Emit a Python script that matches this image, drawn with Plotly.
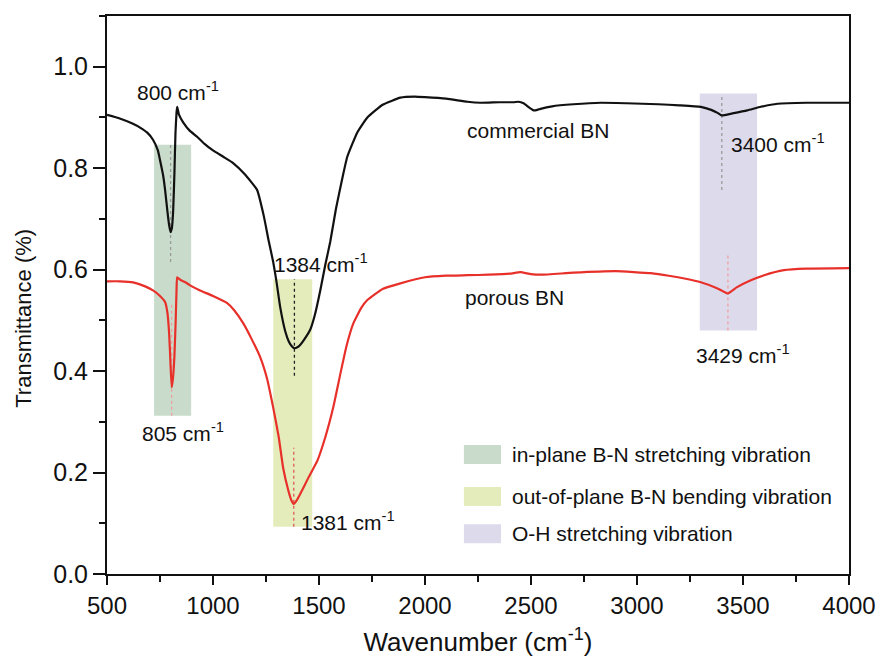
import plotly.graph_objects as go

# ---- FTIR spectra -------------------------------------------------------
wn_commercial = [500, 560, 620, 656, 690, 717, 740, 750, 765, 774, 785, 793, 800,
                 806, 812, 818, 823, 828, 831, 840, 860, 890, 925, 960, 1000, 1050,
                 1095, 1150, 1208, 1240, 1262, 1284, 1300, 1317, 1341, 1358, 1372,
                 1384, 1398, 1412, 1430, 1459, 1480, 1506, 1530, 1553, 1580, 1610,
                 1633, 1680, 1728, 1800, 1884, 1950, 2000, 2100, 2200, 2262, 2350,
                 2418, 2440, 2465, 2490, 2512, 2530, 2545, 2600, 2700, 2829, 2950,
                 3100, 3200, 3301, 3350, 3380, 3400, 3450, 3520, 3584, 3663, 3800,
                 4000]
T_commercial = [0.905, 0.898, 0.888, 0.880, 0.870, 0.856, 0.835, 0.816, 0.785, 0.757,
                0.715, 0.688, 0.674, 0.682, 0.715, 0.790, 0.870, 0.910, 0.921, 0.905,
                0.890, 0.874, 0.862, 0.848, 0.835, 0.822, 0.810, 0.788, 0.757, 0.705,
                0.658, 0.615, 0.575, 0.526, 0.478, 0.458, 0.449, 0.445, 0.447, 0.452,
                0.462, 0.482, 0.510, 0.559, 0.610, 0.655, 0.720, 0.780, 0.822, 0.870,
                0.900, 0.925, 0.939, 0.941, 0.940, 0.937, 0.931, 0.929, 0.930, 0.930,
                0.931, 0.928, 0.920, 0.914, 0.915, 0.917, 0.922, 0.926, 0.929, 0.928,
                0.926, 0.924, 0.921, 0.915, 0.909, 0.904, 0.908, 0.914, 0.921, 0.927,
                0.929, 0.929]

wn_porous = [500, 560, 623, 680, 717, 750, 774, 785, 793, 799, 805, 811, 818, 824,
             828, 831, 845, 870, 892, 939, 1000, 1067, 1100, 1143, 1180, 1223, 1255,
             1284, 1310, 1331, 1355, 1370, 1381, 1395, 1412, 1450, 1492, 1530, 1567,
             1601, 1630, 1662, 1700, 1728, 1800, 1884, 2000, 2100, 2200, 2300, 2400,
             2450, 2500, 2550, 2700, 2900, 3065, 3150, 3230, 3301, 3380, 3429, 3470,
             3537, 3600, 3693, 3800, 4000]
T_porous = [0.577, 0.577, 0.575, 0.567, 0.559, 0.548, 0.536, 0.515, 0.475, 0.420,
            0.368, 0.385, 0.430, 0.500, 0.560, 0.585, 0.580, 0.575, 0.569, 0.559,
            0.548, 0.534, 0.520, 0.494, 0.465, 0.427, 0.385, 0.328, 0.270, 0.209,
            0.165, 0.145, 0.138, 0.145, 0.158, 0.190, 0.223, 0.270, 0.328, 0.395,
            0.450, 0.494, 0.525, 0.540, 0.562, 0.573, 0.585, 0.588, 0.589, 0.590,
            0.592, 0.595, 0.591, 0.590, 0.594, 0.597, 0.593, 0.588, 0.582, 0.575,
            0.563, 0.553, 0.565, 0.579, 0.589, 0.599, 0.602, 0.603]

# ---- assigned vibration bands --------------------------------------------
band_names = ["in-plane B-N stretching vibration",
              "out-of-plane B-N bending vibration",
              "O-H stretching vibration"]
band_lo = [722, 1284, 3296]
band_hi = [897, 1468, 3566]
band_bottom = [0.312, 0.093, 0.480]
band_top = [0.846, 0.581, 0.947]
band_colors = ["#c9dccb", "#e4ecbc", "#dddbeb"]

# ---- peak markers: position, label, dotted-guide extent ------------------
peak_wn = [800, 805, 1384, 1381, 3400, 3429]
peak_labels = ["800 cm<sup>-1</sup>", "805 cm<sup>-1</sup>", "1384 cm<sup>-1</sup>",
               "1381 cm<sup>-1</sup>", "3400 cm<sup>-1</sup>", "3429 cm<sup>-1</sup>"]
guide_lo = [0.615, 0.312, 0.391, 0.093, 0.757, 0.480]
guide_hi = [0.846, 0.536, 0.581, 0.249, 0.943, 0.628]
guide_colors = ["#9a9a9a", "#eea0a0", "#222222", "#e05a5a", "#9a9a9a", "#eea0a0"]
label_x = [835, 859, 1511, 1638, 3665, 3500]
label_y = [0.953, 0.279, 0.613, 0.105, 0.850, 0.433]

FONT = "Liberation Sans, Arial, sans-serif"

fig = go.Figure()

for lo, hi, b0, b1, col in zip(band_lo, band_hi, band_bottom, band_top, band_colors):
    fig.add_shape(type="rect", xref="x", yref="y", x0=lo, x1=hi, y0=b0, y1=b1,
                  fillcolor=col, line_width=0, layer="below")

for wn, lo, hi, col in zip(peak_wn, guide_lo, guide_hi, guide_colors):
    fig.add_trace(go.Scatter(x=[wn, wn], y=[lo, hi], mode="lines",
                             line=dict(color=col, width=1.3, dash="dot"),
                             showlegend=False, hoverinfo="skip"))

fig.add_trace(go.Scatter(x=wn_commercial, y=T_commercial, mode="lines",
                         line=dict(color="#111111", width=2.2, shape="spline",
                                   smoothing=0.4),
                         name="commercial BN", showlegend=False))
fig.add_trace(go.Scatter(x=wn_porous, y=T_porous, mode="lines",
                         line=dict(color="#e8302a", width=2.2, shape="spline",
                                   smoothing=0.4),
                         name="porous BN", showlegend=False))

for txt, x, y in zip(peak_labels, label_x, label_y):
    fig.add_annotation(x=x, y=y, xref="x", yref="y", text=txt, showarrow=False,
                       font=dict(family=FONT, size=21, color="#111111"))

fig.add_annotation(x=2531, y=0.874, xref="x", yref="y", text="commercial BN",
                   showarrow=False, font=dict(family=FONT, size=21, color="#111111"))
fig.add_annotation(x=2423, y=0.545, xref="x", yref="y", text="porous BN",
                   showarrow=False, font=dict(family=FONT, size=21, color="#111111"))

# legend for the shaded bands, drawn in paper space
legend_y = [0.214, 0.139, 0.072]
for name, col, yc in zip(band_names, band_colors, legend_y):
    fig.add_shape(type="rect", xref="paper", yref="paper", x0=0.481, x1=0.531,
                  y0=yc - 0.017, y1=yc + 0.017, fillcolor=col, line_width=0)
    fig.add_annotation(x=0.543, y=yc, xref="paper", yref="paper", text=name,
                       showarrow=False, xanchor="left", yanchor="middle",
                       font=dict(family=FONT, size=21, color="#111111"))

# y-axis title, placed slightly below the plot's vertical centre
fig.add_annotation(x=-0.112, y=0.459, xref="paper", yref="paper",
                   text="Transmittance (%)", textangle=-90, showarrow=False,
                   xanchor="center", yanchor="middle",
                   font=dict(family=FONT, size=22, color="#111111"))

fig.update_layout(
    width=883, height=662,
    margin=dict(l=107, r=34, t=16, b=88),
    paper_bgcolor="white", plot_bgcolor="white",
    showlegend=False,
)
fig.update_xaxes(
    range=[500, 4000], tickvals=[500, 1000, 1500, 2000, 2500, 3000, 3500, 4000],
    automargin=False,
    showgrid=False, zeroline=False,
    showline=True, linecolor="#111111", linewidth=2, mirror=True,
    ticks="outside", ticklen=9, tickwidth=2, tickcolor="#111111",
    minor=dict(ticks="outside", ticklen=6, tickwidth=2, tickcolor="#111111",
               dtick=250, showgrid=False),
    tickfont=dict(family=FONT, size=24, color="#111111"),
    title=dict(text="Wavenumber (cm<sup>-1</sup>)",
               font=dict(family=FONT, size=26, color="#111111")),
)
fig.update_yaxes(
    range=[0, 1.1], tickvals=[0, 0.2, 0.4, 0.6, 0.8, 1.0], tickformat=".1f",
    automargin=False,
    showgrid=False, zeroline=False,
    showline=True, linecolor="#111111", linewidth=2, mirror=True,
    ticks="outside", ticklen=12, tickwidth=2, tickcolor="#111111",
    minor=dict(ticks="outside", ticklen=6, tickwidth=2, tickcolor="#111111",
               dtick=0.1, showgrid=False),
    tickfont=dict(family=FONT, size=25, color="#111111"),
)

fig.write_html("out.html")
